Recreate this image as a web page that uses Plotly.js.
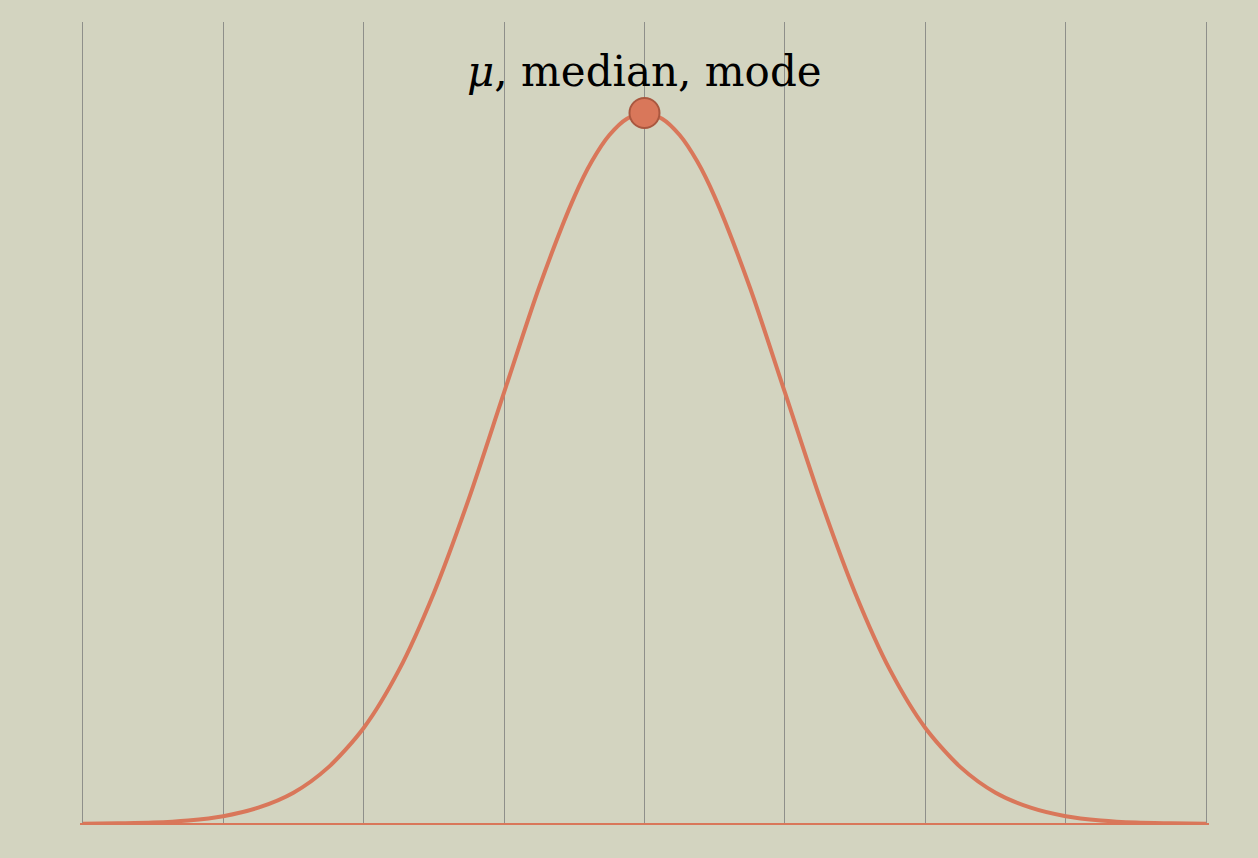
<!DOCTYPE html>
<html>
<head>
<meta charset="utf-8">
<script src="https://cdn.plot.ly/plotly-3.0.1.min.js"></script>
<style>html,body{margin:0;padding:0;background:#d3d4c0;}</style>
</head>
<body>
<div id="myDiv" style="width:1258px;height:858px;"></div>
<script>
// curve heights (peak = 1)
var xs = [-4,-3.75,-3.5,-3.25,-3,-2.75,-2.5,-2.25,-2,-1.75,-1.5,-1.25,-1,-0.75,-0.5,-0.375,-0.25,-0.125,0,
          0.125,0.25,0.375,0.5,0.75,1,1.25,1.5,1.75,2,2.25,2.5,2.75,3,3.25,3.5,3.75,4];
var ys = [0.0003,0.001,0.002,0.005,0.011,0.023,0.044,0.080,0.135,0.216,0.325,0.458,0.607,0.755,0.882,0.932,0.969,0.992,1.0,
          0.992,0.969,0.932,0.882,0.755,0.607,0.458,0.325,0.216,0.135,0.080,0.044,0.023,0.011,0.005,0.002,0.001,0.0003];
var peakX = [0];
var peakY = [1.0];
var peakLabel = '<i>μ</i>, median, mode';

var curve = {
  x: xs, y: ys, mode: 'lines', type: 'scatter',
  line: {color: '#d9775a', width: 4, shape: 'spline', smoothing: 0.8}, hoverinfo: 'skip'
};
var peak = {
  x: peakX, y: peakY, mode: 'markers', type: 'scatter',
  marker: {size: 30, color: '#d9775a', line: {color: '#a9573f', width: 2}}
};

var layout = {
  paper_bgcolor: '#d3d4c0', plot_bgcolor: '#d3d4c0',
  margin: {l: 80, r: 49, t: 22, b: 34},
  showlegend: false,
  xaxis: {range: [-4.02, 4.02], dtick: 1, tick0: 0, showgrid: true, gridcolor: '#8e8f8a', gridwidth: 1,
          zeroline: false, showticklabels: false, ticks: ''},
  yaxis: {range: [0, 1.128], showgrid: false, zeroline: true, zerolinecolor: '#d9775a', zerolinewidth: 2,
          showticklabels: false, ticks: ''},
  annotations: [{x: peakX[0], y: peakY[0], xref: 'x', yref: 'y', yshift: 42, showarrow: false,
    text: peakLabel, font: {family: 'DejaVu Serif, Liberation Serif, serif', size: 42, color: '#000'}}]
};

Plotly.newPlot('myDiv', [curve, peak], layout, {displayModeBar: false, staticPlot: true});
</script>
</body>
</html>
